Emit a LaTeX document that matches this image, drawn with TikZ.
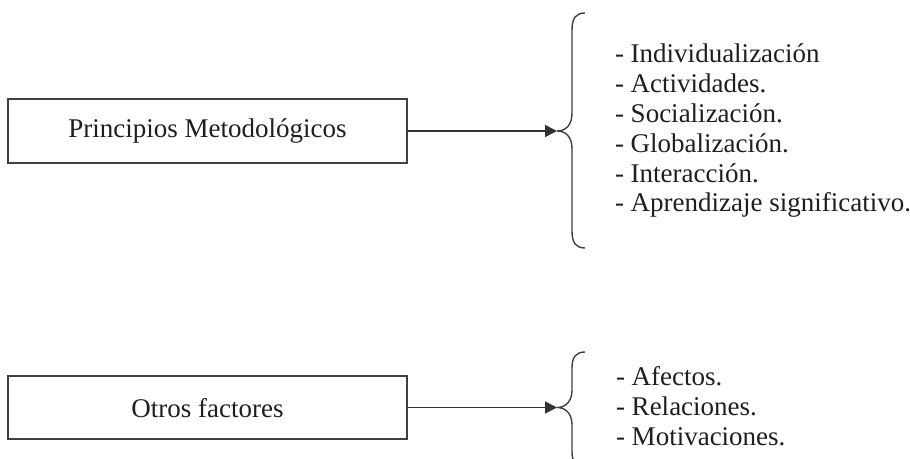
\documentclass[tikz,border=0pt]{standalone}
\usepackage{fontspec}
\setmainfont{Liberation Serif}
\usetikzlibrary{arrows.meta}
\begin{document}
\begin{tikzpicture}[x=0.5pt,y=-0.5pt,
  every node/.style={inner sep=0pt,outer sep=0pt,text=black!88,font=\fontsize{13.5pt}{15pt}\selectfont},
  box/.style={draw=black!75,line width=0.75pt,minimum width=199.5pt,inner ysep=0pt},
  item/.style={anchor=base west},
  conn/.style={draw=black!80,line width=0.75pt,-{Triangle[length=6pt,width=6pt]}},
  brace/.style={draw=black!75,line width=0.7pt}]
\useasboundingbox (0,0) rectangle (910,459);
\fill[white] (0,0) rectangle (910,459);
% boxes
\node[box,text height=19.5pt,text depth=12.5pt] (pm) at (207.5,131) {Principios Metodológicos};
\node[box,text height=20.5pt,text depth=11pt] (of) at (207.5,407.5) {Otros factores};
% brace tips
\coordinate (t1) at (557,131);
\coordinate (t2) at (557,407.5);
% braces
\draw[brace] (585,13) .. controls (576,13) and (572,18) .. (572,30) -- (572,113)
  .. controls (572,125) and (566,131) .. (t1)
  .. controls (566,131) and (572,137) .. (572,149) -- (572,231)
  .. controls (572,243) and (576,248) .. (585,248);
\draw[brace] (585,352) .. controls (576,352) and (572,357) .. (572,368) -- (572,390)
  .. controls (572,401) and (566,407.5) .. (t2)
  .. controls (566,407.5) and (572,414) .. (572,425) -- (572,452)
  .. controls (572,462) and (576,466) .. (585,466);
% connectors
\draw[conn] (pm.east) -- (t1);
\draw[conn] (of.east) -- (t2);
% lists
\node[item] (a1) at (615,63) {- Individualización};
\node[item] (a2) at (615,92.8) {- Actividades.};
\node[item] (a3) at (615,122.6) {- Socialización.};
\node[item] (a4) at (615,152.4) {- Globalización.};
\node[item] (a5) at (615,182.2) {- Interacción.};
\node[item] (a6) at (615,212) {- Aprendizaje significativo.};
\node[item] (b1) at (616,386) {- Afectos.};
\node[item] (b2) at (616,415.5) {- Relaciones.};
\node[item] (b3) at (616,445) {- Motivaciones.};
\end{tikzpicture}
\end{document}
